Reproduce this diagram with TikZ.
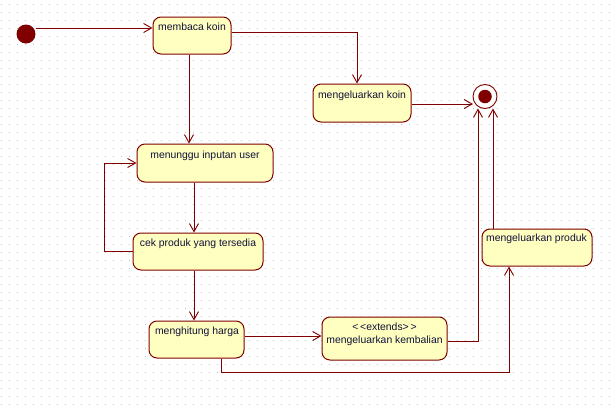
\documentclass[tikz,border=0pt]{standalone}
\usepackage{fontspec}
\setmainfont{Liberation Sans}
\usetikzlibrary{arrows.meta}
\definecolor{mar}{HTML}{800000}
\definecolor{stfill}{HTML}{FFFFC0}
\definecolor{txtc}{HTML}{10103A}
\definecolor{dotc}{HTML}{C4C4C4}
\tikzset{
  st/.style={draw=mar, fill=stfill, line width=1pt, rounded corners=8pt, inner sep=0pt},
  txt/.style={text=txtc, font=\fontsize{10.4}{13}\selectfont, inner sep=0pt, align=center},
  arr/.style={draw=mar, line width=0.9pt, -{Straight Barb[length=8pt,width=9pt,line width=0.9pt]}},
  ln/.style={draw=mar, line width=0.9pt}
}
\begin{document}
\begin{tikzpicture}[x=1pt,y=-1pt]
\useasboundingbox (0,0) rectangle (616,405);
\fill[white] (0,0) rectangle (616,405);
\foreach \x in {1,9,...,615} \foreach \y in {4,12,...,404} \fill[dotc] (\x,\y) rectangle ++(1,1);
% initial & final
\node[circle, fill=mar, minimum size=19pt, inner sep=0pt] (init) at (26,34) {};
\node[circle, draw=mar, fill=white, line width=0.9pt, minimum size=24pt, inner sep=0pt] (fin) at (485,96.5) {};
\node[circle, fill=mar, minimum size=13.5pt, inner sep=0pt] (finin) at (fin.center) {};
% states
\node[st, minimum width=78pt, minimum height=37pt] (a) at (192,35.5) {};
\node[txt] (at) at (192,27) {membaca koin};
\node[st, minimum width=98pt, minimum height=38pt] (b) at (362,103) {};
\node[txt] (bt) at (362,96) {mengeluarkan koin};
\node[st, minimum width=136pt, minimum height=38pt] (c) at (205,163) {};
\node[txt] (ct) at (205,156) {menunggu inputan user};
\node[st, minimum width=130pt, minimum height=37pt] (d) at (198,251.5) {};
\node[txt] (dt) at (198,244) {cek produk yang tersedia};
\node[st, minimum width=95pt, minimum height=37pt] (e) at (196.5,339.5) {};
\node[txt] (et) at (197,332) {menghitung harga};
\node[st, minimum width=125pt, minimum height=43pt] (f) at (384.5,338.5) {};
\node[txt] (ft1) at (384.5,327) {<\,<extends>\,>};
\node[txt] (ft2) at (384.5,341) {mengeluarkan kembalian};
\node[st, minimum width=110pt, minimum height=37pt] (g) at (537,247.5) {};
\node[txt] (gt) at (536.5,239) {mengeluarkan produk};
% connectors
\draw[arr] (init.east |- 0,28) -- (a.west |- 0,28);
\draw[arr] (a.east |- 0,32) -| ([xshift=-5pt]b.north);
\draw[arr] (b.east |- 0,104) -- (473,104);
\draw[arr] ([xshift=-3pt]a.south) -- (c.north -| 189,0);
\draw[arr] (c.south -| 194,0) -- (d.north -| 194,0);
\draw[arr] (d.west) -- ++(-28,0) |- (c.west);
\draw[arr] (d.south -| 194,0) -- (e.north -| 194,0);
\draw[arr] (e.east |- 0,336) -- (f.west |- 0,336);
\draw[arr] (f.east |- 0,341) -| (478,108.5);
\draw[arr] (e.south -| 221,0) -- (221,372) -| (g.south -| 509,0);
\draw[arr] (g.north -| 493,0) -- (493,108.5);
\end{tikzpicture}
\end{document}
